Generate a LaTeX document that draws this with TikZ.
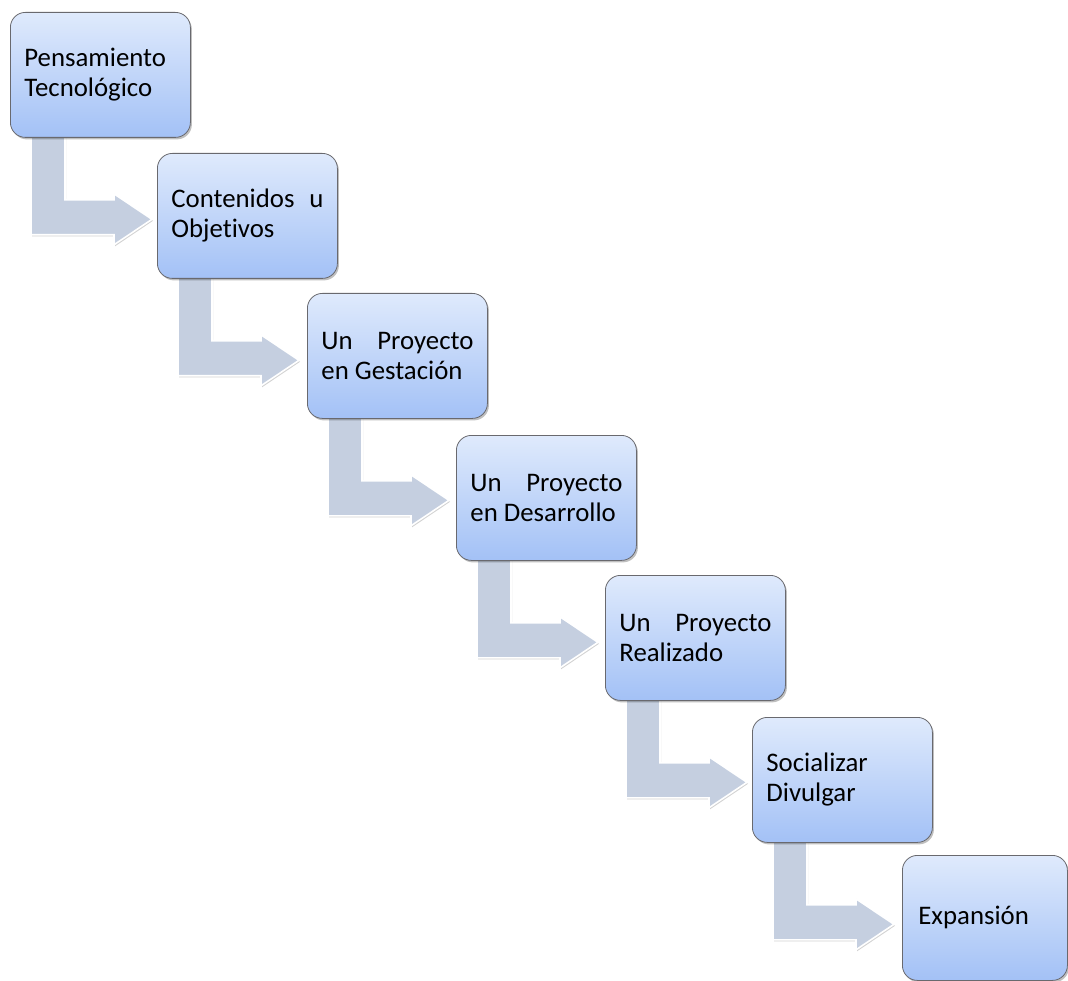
\documentclass[tikz,border=0pt]{standalone}
\usepackage{fontspec}
\setmainfont{Carlito}[Ligatures={NoCommon}]
\usetikzlibrary{calc,shadows}
\definecolor{arrowc}{RGB}{197,207,224}
\definecolor{boxtop}{RGB}{223,234,252}
\definecolor{boxbot}{RGB}{163,193,246}
\definecolor{boxline}{RGB}{105,105,110}
\pgfdeclarelayer{bg}
\pgfsetlayers{bg,main}
\newcommand\stagearrow[1]{%
  \draw[bentarrow]
    ($(#1.south west)+(21,-10)$) -- ($(#1.south west)+(21,97)$)
    -- ($(#1.south west)+(104,97)$) -- ($(#1.south west)+(104,107)$)
    -- ($(#1.south west)+(142,81.5)$) -- ($(#1.south west)+(104,56)$)
    -- ($(#1.south west)+(104,62)$) -- ($(#1.south west)+(55,62)$)
    -- ($(#1.south west)+(55,-10)$) -- cycle;}
\begin{document}
\begin{tikzpicture}[x=1pt,y=-1pt,
  stagebox/.style={draw=boxline, line width=0.8pt, rounded corners=15pt,
    top color=boxtop, bottom color=boxbot,
    minimum width=180pt, minimum height=125pt, anchor=north west,
    text width=152pt, align=flush left, inner sep=0pt,
    font=\fontsize{26.8}{30}\selectfont,
    drop shadow={shadow xshift=1.5pt, shadow yshift=-2pt, opacity=0.25, fill=black}},
  bentarrow/.style={fill=arrowc, draw=white, line width=1.6pt, line join=miter,
    drop shadow={shadow xshift=1pt, shadow yshift=-1.5pt, opacity=0.18, fill=black}}]
\useasboundingbox (0,0) rectangle (1068,981);
\node[stagebox] (b1) at (10,12) {Pensamiento\\Tecnológico};
\node[stagebox] (b2) at (157,153) {Contenidos\hfill u\\Objetivos};
\node[stagebox] (b3) at (307,293) {Un\hfill Proyecto\\en Gestación};
\node[stagebox] (b4) at (456,435) {Un\hfill Proyecto\\en Desarrollo};
\node[stagebox] (b5) at (605,575) {Un\hfill Proyecto\\Realizado};
\node[stagebox] (b6) at (752,717) {Socializar\\Divulgar};
\node[stagebox, minimum width=165pt, text width=133pt] (b7) at (902,855) {Expansión};
\begin{pgfonlayer}{bg}
\stagearrow{b1}
\stagearrow{b2}
\stagearrow{b3}
\stagearrow{b4}
\stagearrow{b5}
\stagearrow{b6}
\end{pgfonlayer}
\end{tikzpicture}
\end{document}
